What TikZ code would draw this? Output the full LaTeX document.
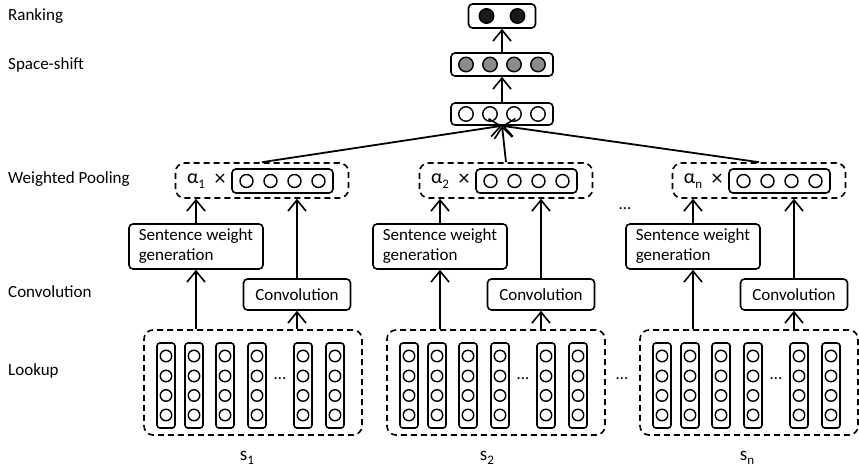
\documentclass[tikz,border=0pt]{standalone}
\usepackage{fontspec}
\setmainfont{Carlito}
\usetikzlibrary{arrows.meta,calc}

\tikzset{
  txt/.style={font=\fontsize{17}{20}\selectfont, inner sep=0pt},
  layer/.style={txt, anchor=west},
  box/.style={draw, line width=1.6pt, rounded corners=4pt, inner sep=0pt},
  dbox/.style={draw, line width=1.6pt, rounded corners=9pt, inner sep=0pt,
               dash pattern=on 6pt off 4pt},
  unit/.style={circle, draw, line width=1.4pt, inner sep=0pt, minimum size=13pt},
  bigunit/.style={unit, minimum size=14.5pt},
  wunit/.style={unit, minimum size=11.5pt},
  arr/.style={line width=1.8pt, -{Straight Barb[length=11pt,width=18pt,line width=1.6pt]}},
}
\newcommand{\symsub}[2]{#1\raisebox{-0.45ex}{\fontsize{13}{13}\selectfont #2}}

\begin{document}
\begin{tikzpicture}[x=1pt,y=-1pt]
\useasboundingbox (0,0) rectangle (859,470);

% layer names
\node[layer] (lbl-rank)  at (8,16)  {Ranking};
\node[layer] (lbl-shift) at (8,65)  {Space-shift};
\node[layer] (lbl-pool)  at (8,179) {Weighted Pooling};
\node[layer] (lbl-conv)  at (8,292) {Convolution};
\node[layer] (lbl-look)  at (8,371) {Lookup};

% top of the network
\node[box, minimum width=67pt, minimum height=24pt] (rank) at (502,16) {};
\foreach \k/\xx in {1/-15.5,2/15.5}
  \node[bigunit, fill=black!90] (rank-c\k) at ($(rank)+(\xx,0)$) {};

\node[box, minimum width=102pt, minimum height=23pt] (shift) at (502,64.5) {};
\foreach \k/\xx in {1/-36,2/-12,3/12,4/36}
  \node[bigunit, fill=black!45] (shift-c\k) at ($(shift)+(\xx,0)$) {};

\node[box, minimum width=102pt, minimum height=22pt] (doc) at (502,114) {};
\foreach \k/\xx in {1/-36,2/-12,3/12,4/36}
  \node[bigunit] (doc-c\k) at ($(doc)+(\xx,0)$) {};

\draw[arr] (shift.north) -- (rank.south);
\draw[arr] (doc.north) -- (shift.south);

% one column of blocks per sentence
\foreach \i/\dx/\lx/\sub in {1/0/0/1, 2/244/243/2, 3/497/496/n}{
  \begin{scope}[xshift=\dx pt]
    % weighted pooling
    \node[dbox, minimum width=173pt, minimum height=35pt] (wp\i) at (262,180.5) {};
    \node[txt, font=\fontsize{20}{22}\selectfont] (alpha\i) at (196,181) {\symsub{α}{\sub}};
    \node[txt, font=\fontsize{22}{22}\selectfont] (times\i) at (220,180) {×};
    \node[box, minimum width=101pt, minimum height=24pt] (vec\i) at (282.5,181) {};
    \foreach \k/\xx in {1/-36,2/-12,3/12,4/36}
      \node[unit] (vec\i-c\k) at ($(vec\i)+(\xx,0)$) {};
    % sentence weight generation and convolution
    \node[box, txt, align=left, minimum width=134pt, minimum height=45pt] (swg\i) at (196,246.5)
      {Sentence weight\\generation};
    \node[box, txt, minimum width=107pt, minimum height=31pt] (conv\i) at (297,294.5) {Convolution};
  \end{scope}
  \begin{scope}[xshift=\lx pt]
    % lookup of the word vectors
    \node[dbox, minimum width=218pt, minimum height=105pt] (lk\i) at (253,382.5) {};
    \foreach \j/\cx in {1/166,2/194,3/225,4/257,5/303,6/335}{
      \node[box, rounded corners=3pt, minimum width=18pt, minimum height=85pt] (lk\i-w\j) at (\cx,385.5) {};
      \foreach \m/\yy in {1/356,2/376,3/395.5,4/415}
        \node[wunit] (lk\i-w\j-\m) at (\cx,\yy) {};
    }
    \node[txt, anchor=base] (lk\i-dots) at (280,379) {…};
  \end{scope}
  \draw[arr] (swg\i.south |- lk\i.north) -- (swg\i.south);
  \draw[arr] (swg\i.north) -- (swg\i.north |- wp\i.south);
  \draw[arr] (conv\i.south |- lk\i.north) -- (conv\i.south);
  \draw[arr] (conv\i.north) -- (conv\i.north |- wp\i.south);
  \draw[arr] (wp\i.north) -- (doc.south);
}

% sentence labels
\node[txt, font=\fontsize{19}{20}\selectfont] (s1) at (247,458) {\symsub{s}{1}};
\node[txt, font=\fontsize{19}{20}\selectfont] (s2) at (487,458) {\symsub{s}{2}};
\node[txt, font=\fontsize{19}{20}\selectfont] (sn) at (747,458) {\symsub{s}{n}};

% ellipses between sentences
\node[txt, anchor=base] (dots-pool) at (625,210) {…};
\node[txt, anchor=base] (dots-look) at (622,379) {…};
\end{tikzpicture}
\end{document}
